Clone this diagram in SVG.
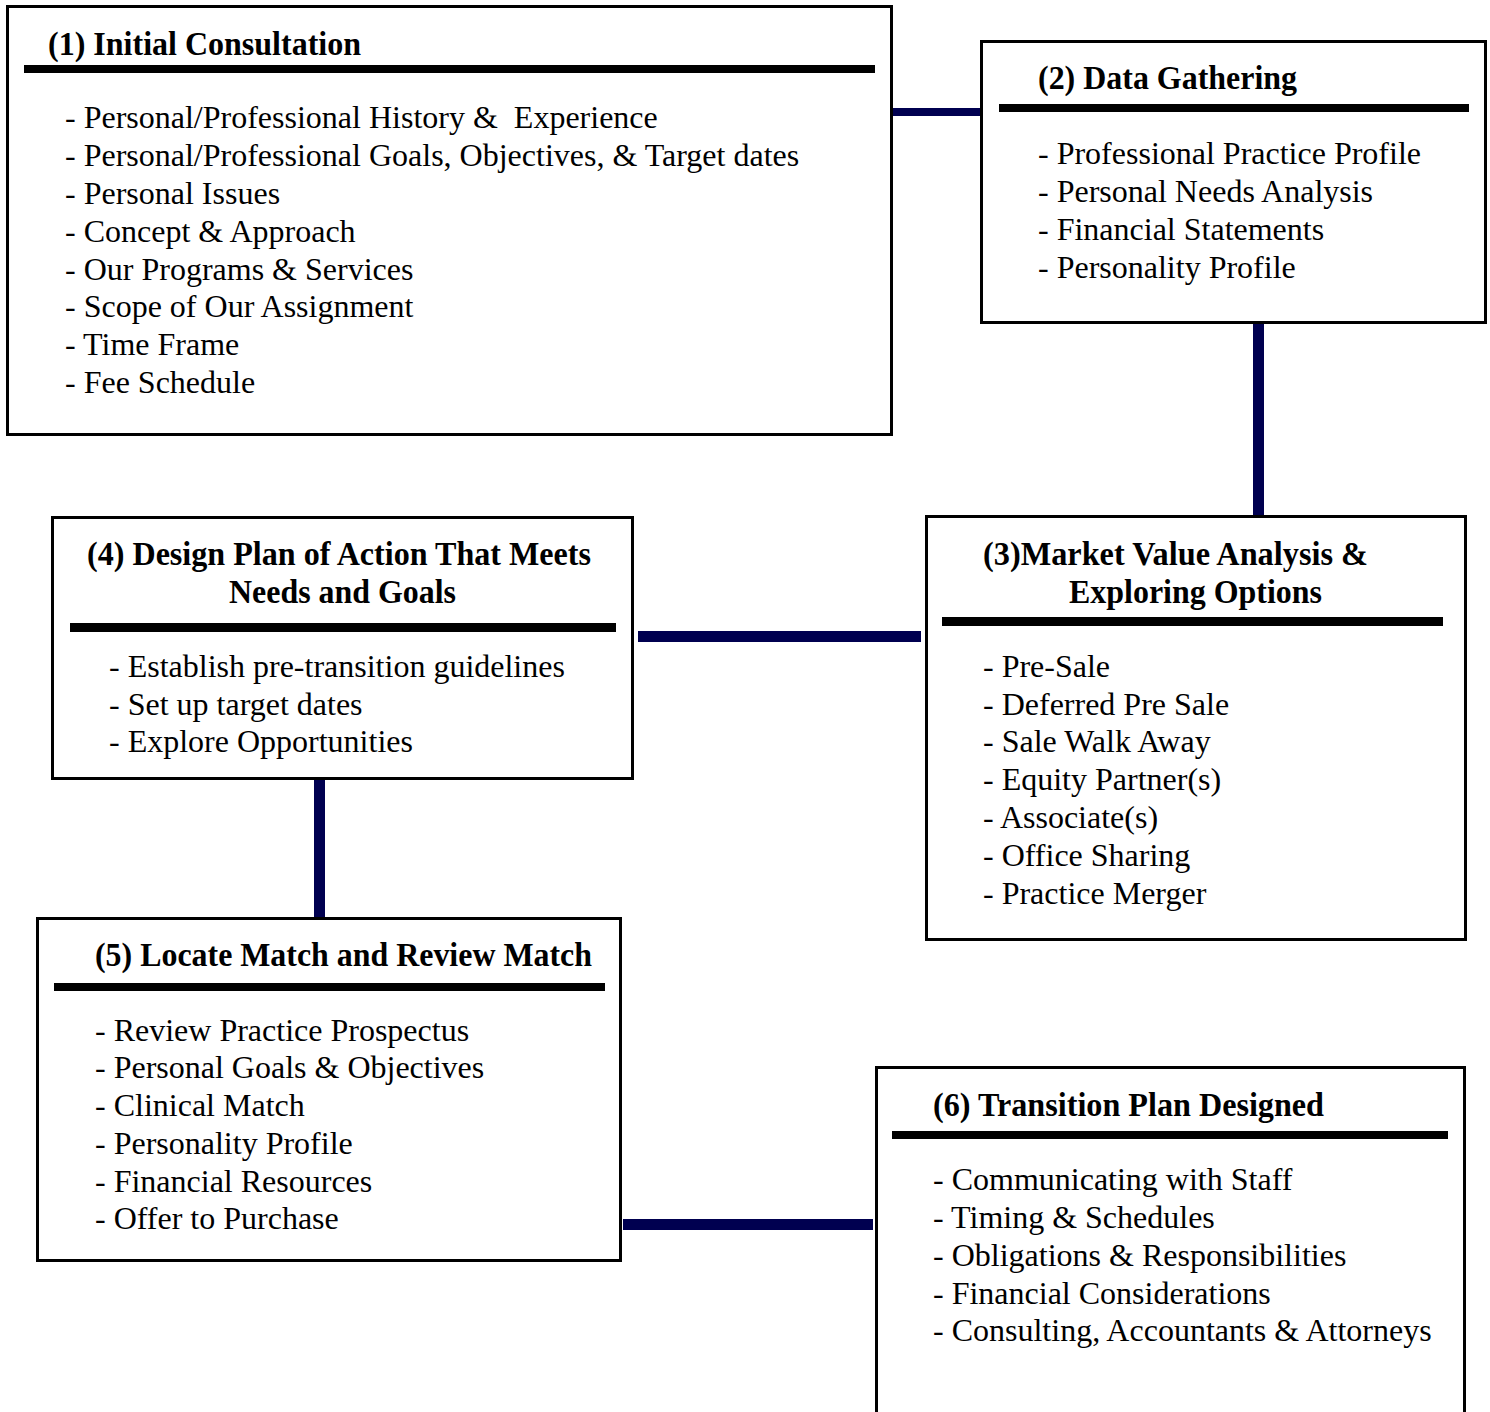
<svg xmlns="http://www.w3.org/2000/svg" width="1490" height="1412" viewBox="0 0 1490 1412">
<style>
.box{fill:#fff;stroke:#000;stroke-width:3}
.bar{fill:#000}
.conn{fill:#000050}
.h{font-family:"Liberation Serif","Times New Roman",serif;font-weight:bold;font-size:34px;fill:#000}
.t{font-family:"Liberation Serif","Times New Roman",serif;font-size:32px;fill:#000}
</style>
<rect width="1490" height="1412" fill="#fff"/>
<g id="connectors">
<rect class="conn" x="892" y="108" width="88" height="8"/>
<rect class="conn" x="1253" y="321" width="11" height="194"/>
<rect class="conn" x="638" y="631" width="283" height="11"/>
<rect class="conn" x="314" y="778" width="11" height="139"/>
<rect class="conn" x="623" y="1219" width="250" height="11"/>
</g>
<g id="node1">
<rect class="box" x="7.5" y="6.5" width="884" height="428"/>
<text class="h" x="48" y="55" textLength="313" lengthAdjust="spacingAndGlyphs">(1) Initial Consultation</text>
<rect class="bar" x="24" y="65" width="851" height="8"/>
<text class="t" x="65" y="128">- Personal/Professional History &amp;&#160; Experience</text>
<text class="t" x="65" y="166">- Personal/Professional Goals, Objectives, &amp; Target dates</text>
<text class="t" x="65" y="204">- Personal Issues</text>
<text class="t" x="65" y="242">- Concept &amp; Approach</text>
<text class="t" x="65" y="280">- Our Programs &amp; Services</text>
<text class="t" x="65" y="317">- Scope of Our Assignment</text>
<text class="t" x="65" y="355">- Time Frame</text>
<text class="t" x="65" y="393">- Fee Schedule</text>
</g>
<g id="node2">
<rect class="box" x="981.5" y="41.5" width="504" height="281"/>
<text class="h" x="1038" y="89" textLength="259" lengthAdjust="spacingAndGlyphs">(2) Data Gathering</text>
<rect class="bar" x="999" y="104" width="470" height="8"/>
<text class="t" x="1038" y="164">- Professional Practice Profile</text>
<text class="t" x="1038" y="202">- Personal Needs Analysis</text>
<text class="t" x="1038" y="240">- Financial Statements</text>
<text class="t" x="1038" y="278">- Personality Profile</text>
</g>
<g id="node3">
<rect class="box" x="926.5" y="516.5" width="539" height="423"/>
<text class="h" x="983" y="565" textLength="385" lengthAdjust="spacingAndGlyphs">(3)Market Value Analysis &amp;</text>
<text class="h" x="1069" y="603" textLength="253" lengthAdjust="spacingAndGlyphs">Exploring Options</text>
<rect class="bar" x="942" y="617" width="501" height="9"/>
<text class="t" x="983" y="677">- Pre-Sale</text>
<text class="t" x="983" y="715">- Deferred Pre Sale</text>
<text class="t" x="983" y="752">- Sale Walk Away</text>
<text class="t" x="983" y="790">- Equity Partner(s)</text>
<text class="t" x="983" y="828">- Associate(s)</text>
<text class="t" x="983" y="866">- Office Sharing</text>
<text class="t" x="983" y="904">- Practice Merger</text>
</g>
<g id="node4">
<rect class="box" x="52.5" y="517.5" width="580" height="261"/>
<text class="h" x="87" y="565" textLength="504" lengthAdjust="spacingAndGlyphs">(4) Design Plan of Action That Meets</text>
<text class="h" x="229" y="603" textLength="227" lengthAdjust="spacingAndGlyphs">Needs and Goals</text>
<rect class="bar" x="70" y="623" width="546" height="9"/>
<text class="t" x="109" y="677">- Establish pre-transition guidelines</text>
<text class="t" x="109" y="715">- Set up target dates</text>
<text class="t" x="109" y="752">- Explore Opportunities</text>
</g>
<g id="node5">
<rect class="box" x="37.5" y="918.5" width="583" height="342"/>
<text class="h" x="95" y="966" textLength="497" lengthAdjust="spacingAndGlyphs">(5) Locate Match and Review Match</text>
<rect class="bar" x="54" y="983" width="551" height="8"/>
<text class="t" x="95" y="1041">- Review Practice Prospectus</text>
<text class="t" x="95" y="1078">- Personal Goals &amp; Objectives</text>
<text class="t" x="95" y="1116">- Clinical Match</text>
<text class="t" x="95" y="1154">- Personality Profile</text>
<text class="t" x="95" y="1192">- Financial Resources</text>
<text class="t" x="95" y="1229">- Offer to Purchase</text>
</g>
<g id="node6">
<rect x="876" y="1067" width="589" height="350" fill="#fff"/>
<path d="M876.5 1420 V1067.5 H1464.5 V1420" fill="none" stroke="#000" stroke-width="3"/>
<text class="h" x="933" y="1116" textLength="391" lengthAdjust="spacingAndGlyphs">(6) Transition Plan Designed</text>
<rect class="bar" x="892" y="1131" width="556" height="8"/>
<text class="t" x="933" y="1190">- Communicating with Staff</text>
<text class="t" x="933" y="1228">- Timing &amp; Schedules</text>
<text class="t" x="933" y="1266">- Obligations &amp; Responsibilities</text>
<text class="t" x="933" y="1304">- Financial Considerations</text>
<text class="t" x="933" y="1341">- Consulting, Accountants &amp; Attorneys</text>
</g>
</svg>
